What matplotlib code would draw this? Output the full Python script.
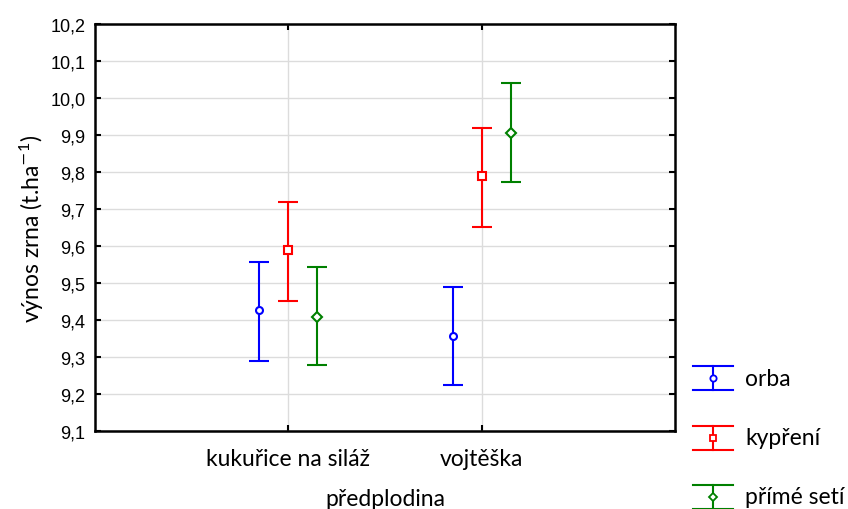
import numpy as np
import matplotlib
matplotlib.use("Agg")
import matplotlib.pyplot as plt
from matplotlib.lines import Line2D

# prumerny vynos zrna podle predplodiny a zpusobu zpracovani pudy
predplodiny = ["kukuřice na siláž", "vojtěška"]
zpracovani = ["orba", "kypření", "přímé setí"]
prumer = {
    "orba":       [9.427, 9.357],
    "kypření":    [9.589, 9.789],
    "přímé setí": [9.408, 9.905],
}
dolni = {
    "orba":       [9.289, 9.224],
    "kypření":    [9.451, 9.651],
    "přímé setí": [9.278, 9.773],
}
horni = {
    "orba":       [9.557, 9.489],
    "kypření":    [9.719, 9.919],
    "přímé setí": [9.543, 10.041],
}
yticks = [9.1, 9.2, 9.3, 9.4, 9.5, 9.6, 9.7, 9.8, 9.9, 10.0, 10.1, 10.2]

barvy = {"orba": "#0000ff", "kypření": "#ff0000", "přímé setí": "#008000"}
znacky = {"orba": "o", "kypření": "s", "přímé setí": "D"}
velikost = {"orba": 5, "kypření": 5.5, "přímé setí": 5}
posun = {"orba": -0.15, "kypření": 0.0, "přímé setí": 0.15}

txt_font = ["Lato", "DejaVu Sans"]
num_font = ["Liberation Sans", "DejaVu Sans"]
plt.rcParams["mathtext.fontset"] = "custom"
plt.rcParams["mathtext.rm"] = "Lato"
plt.rcParams["mathtext.default"] = "rm"

fig = plt.figure(figsize=(8.48, 5.10), dpi=100)
ax = fig.add_axes([95 / 848, 1 - 432 / 510, 580 / 848, 407 / 510])

x = np.arange(1, len(predplodiny) + 1)
for z in zpracovani:
    m = np.array(prumer[z])
    err = np.vstack([m - np.array(dolni[z]), np.array(horni[z]) - m])
    ax.errorbar(x + posun[z], m, yerr=err, fmt=znacky[z], color=barvy[z],
                ms=velikost[z], mfc="white", mew=1.5, elinewidth=1.5,
                capsize=7, capthick=1.5, zorder=3)

ax.set_xlim(0, 3)
ax.set_ylim(9.1, 10.2)
ax.set_xticks(x)
ax.set_xticklabels(predplodiny, fontsize=16.5, family=txt_font)
ax.set_yticks(yticks)
ax.set_yticklabels([f"{v:.1f}".replace(".", ",") for v in yticks],
                   fontsize=13, family=num_font)
ax.tick_params(direction="in", length=4, width=1.5, top=True, right=True)
ax.tick_params(axis="x", pad=12)
ax.tick_params(axis="y", pad=7)
ax.grid(True, color="#dcdcdc", lw=1)
ax.set_axisbelow(True)
for s in ax.spines.values():
    s.set_linewidth(1.8)

ax.set_xlabel("předplodina", fontsize=16.5, family=txt_font, labelpad=14)
ax.set_ylabel("výnos zrna (t.ha$^{\\mathsf{-}1}$)", fontsize=16.5,
              family=txt_font, labelpad=3)

# legenda vpravo od grafu
for i, z in enumerate(zpracovani):
    yc = 1 - (379 + 59.5 * i) / 510
    xc = 713 / 848
    h = 12 / 510
    w = 20 / 848
    c = barvy[z]
    fig.add_artist(Line2D([xc, xc], [yc - h, yc + h], color=c, lw=1.5))
    fig.add_artist(Line2D([xc - w, xc + w], [yc + h, yc + h], color=c, lw=1.5))
    fig.add_artist(Line2D([xc - w, xc + w], [yc - h, yc - h], color=c, lw=1.5))
    fig.add_artist(Line2D([xc], [yc], marker=znacky[z], color=c, mfc="white",
                          ms=velikost[z] - 0.5, mew=1.3))
    fig.text(745 / 848, yc, z, fontsize=16.5, family=txt_font, va="center")

fig.savefig("out.png", dpi=100)
